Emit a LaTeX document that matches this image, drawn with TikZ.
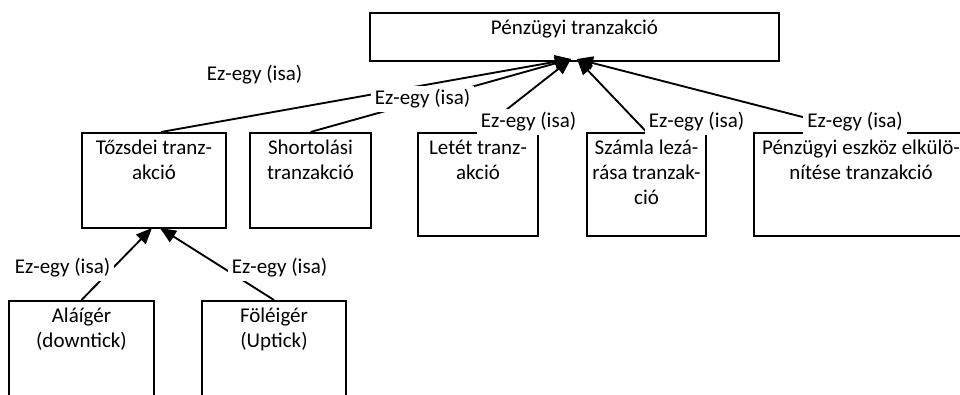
\documentclass[tikz,border=0pt]{standalone}
\usepackage{fontspec}
\setmainfont{Carlito}
\usetikzlibrary{arrows.meta,calc}

% box helper: name, left, top, right, bottom (pixel-like units)
\newcommand\mkbox[5]{%
  \node[box, anchor=north west,
        minimum width={(#4-#2)*0.75pt},
        minimum height={(#5-#3)*0.75pt}] (#1) at (#2,#3) {};}

\begin{document}
\begin{tikzpicture}[x=0.75pt,y=-0.75pt,
  every node/.style={font=\fontsize{15.75pt}{18.75pt}\selectfont},
  box/.style={draw, line width=1.5pt, inner sep=0pt, rectangle},
  boxtext/.style={anchor=north, inner sep=0pt, align=center},
  isa/.style={line width=1.4pt, -{Triangle[length=12pt,width=10pt]}},
  isalabel/.style={fill=white, inner sep=3pt}]
\useasboundingbox (0,0) rectangle (960,394);
\fill[white] (0,0) rectangle (960,394);
\clip (0,0) rectangle (960,394);

% class boxes
\mkbox{fin}{369}{12}{778}{60}
\mkbox{tozsde}{81}{132}{225}{227}
\mkbox{short}{249}{132}{370}{227}
\mkbox{letet}{417}{132}{537}{235}
\mkbox{szamla}{586}{132}{705}{235}
\mkbox{elkul}{753}{132}{967}{235}
\mkbox{alaiger}{8}{300}{153}{420}
\mkbox{feleiger}{201}{300}{345}{420}

% box captions, set from the top edge
\newcommand\fl{\rule{0pt}{16.5pt}}
\node[boxtext] (tfin) at (fin.north) {\fl Pénzügyi tranzakció};
\node[boxtext] (ttozsde) at (tozsde.north) {\fl Tőzsdei tranz-\\akció};
\node[boxtext] (tshort) at (short.north) {\fl Shortolási\\tranzakció};
\node[boxtext] (tletet) at (letet.north) {\fl Letét tranz-\\akció};
\node[boxtext] (tszamla) at (szamla.north) {\fl Számla lezá-\\rása tranzak-\\ció};
\node[boxtext] (telkul) at (elkul.north) {\fl Pénzügyi eszköz elkülö-\\nítése tranzakció};
\node[boxtext] (talaiger) at (alaiger.north) {\fl Aláígér\\(downtick)};
\node[boxtext] (tfeleiger) at (feleiger.north) {\fl Föléigér\\(Uptick)};

% arrow tips on the parent boxes
\coordinate (tipL) at (571,59);
\coordinate (tipR) at (577,59);
\coordinate (tipA) at (152,228);
\coordinate (tipB) at (160,228);

% generalisation connectors
\draw[isa] ($(tozsde.north)+(7,0)$) -- (tipL);
\draw[isa] (short.north) -- (tipL);
\draw[isa] (letet.north) -- (tipL);
\draw[isa] (szamla.north) -- (tipR);
\draw[isa] (elkul.north) -- (tipR);
\draw[isa] (alaiger.north) -- (tipA);
\draw[isa] (feleiger.north) -- (tipB);

% connector labels
\node[isalabel] (l0) at (254.5,75) {Ez-egy (isa)};
\node[isalabel] (l1) at (422.5,99) {Ez-egy (isa)};
\node[isalabel] (l2) at (528.5,122) {Ez-egy (isa)};
\node[isalabel] (l3) at (696.5,122) {Ez-egy (isa)};
\node[isalabel] (l4) at (855,122) {Ez-egy (isa)};
\node[isalabel] (l5) at (62.5,268) {Ez-egy (isa)};
\node[isalabel] (l6) at (279.5,268) {Ez-egy (isa)};
\end{tikzpicture}
\end{document}
